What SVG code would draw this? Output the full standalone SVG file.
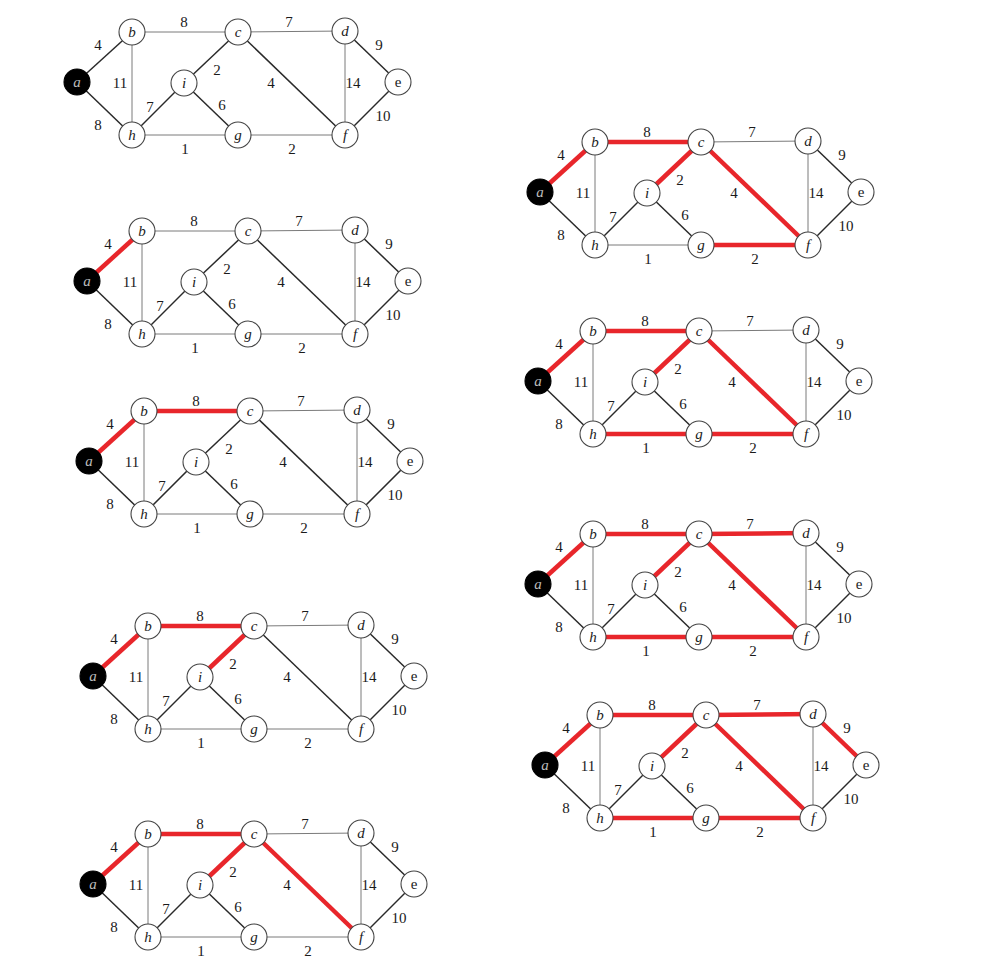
<svg xmlns="http://www.w3.org/2000/svg" xmlns:xlink="http://www.w3.org/1999/xlink" width="994" height="965" viewBox="0 0 994 965">
<style>
.dk{stroke:#2a2a2a;stroke-width:1.5;fill:none}
.lt{stroke:#7a7a7a;stroke-width:1;fill:none}
.red{stroke:#e8262b;stroke-width:4.5;fill:none}
.nd circle{fill:#fff;stroke:#444;stroke-width:1.1}
.nd text{font-family:"Liberation Serif",serif;font-style:italic;font-size:15px;fill:#222;text-anchor:middle}
.nd text.up{font-style:normal}
.src circle{fill:#000;stroke:#000}
.src text{fill:#bbb}
.w{font-family:"Liberation Serif",serif;font-size:15px;fill:#1a1a1a;text-anchor:middle}
</style>
<defs>
<g id="edges">
<line class="dk" x1="0" y1="0" x2="55" y2="-50"/>
<line class="dk" x1="0" y1="0" x2="55" y2="53"/>
<line class="lt" x1="55" y1="-50" x2="161" y2="-50"/>
<line class="lt" x1="55" y1="-50" x2="55" y2="53"/>
<line class="lt" x1="161" y1="-50" x2="268" y2="-51"/>
<line class="dk" x1="161" y1="-50" x2="107" y2="1"/>
<line class="dk" x1="161" y1="-50" x2="268" y2="53"/>
<line class="dk" x1="268" y1="-51" x2="321" y2="0"/>
<line class="lt" x1="268" y1="-51" x2="268" y2="53"/>
<line class="dk" x1="321" y1="0" x2="268" y2="53"/>
<line class="dk" x1="55" y1="53" x2="107" y2="1"/>
<line class="dk" x1="107" y1="1" x2="161" y2="53"/>
<line class="lt" x1="55" y1="53" x2="161" y2="53"/>
<line class="lt" x1="161" y1="53" x2="268" y2="53"/>
</g>
<g id="weights">
<text class="w" x="21" y="-32">4</text>
<text class="w" x="21" y="48">8</text>
<text class="w" x="43" y="6">11</text>
<text class="w" x="107" y="-55">8</text>
<text class="w" x="212" y="-55">7</text>
<text class="w" x="302" y="-32">9</text>
<text class="w" x="140" y="-7">2</text>
<text class="w" x="194" y="6">4</text>
<text class="w" x="276" y="6">14</text>
<text class="w" x="306" y="39">10</text>
<text class="w" x="73" y="30">7</text>
<text class="w" x="145" y="28">6</text>
<text class="w" x="108" y="72">1</text>
<text class="w" x="215" y="72">2</text>
</g>
<g id="nodes">
<g id="node-a" class="nd src" transform="translate(0,0)"><circle r="13"/><text y="5">a</text></g>
<g id="node-b" class="nd" transform="translate(55,-50)"><circle r="13"/><text y="5">b</text></g>
<g id="node-c" class="nd" transform="translate(161,-50)"><circle r="13"/><text y="5">c</text></g>
<g id="node-d" class="nd" transform="translate(268,-51)"><circle r="13"/><text y="5">d</text></g>
<g id="node-e" class="nd" transform="translate(321,0)"><circle r="13"/><text class="up" y="5">e</text></g>
<g id="node-i" class="nd" transform="translate(107,1)"><circle r="13"/><text y="5">i</text></g>
<g id="node-h" class="nd" transform="translate(55,53)"><circle r="13"/><text y="5">h</text></g>
<g id="node-g" class="nd" transform="translate(161,53)"><circle r="13"/><text y="5">g</text></g>
<g id="node-f" class="nd" transform="translate(268,53)"><circle r="13"/><text y="5">f</text></g>
</g>
<line id="r-ab" class="red" x1="0" y1="0" x2="55" y2="-50"/>
<line id="r-bc" class="red" x1="55" y1="-50" x2="161" y2="-50"/>
<line id="r-ci" class="red" x1="161" y1="-50" x2="107" y2="1"/>
<line id="r-cf" class="red" x1="161" y1="-50" x2="268" y2="53"/>
<line id="r-gf" class="red" x1="161" y1="53" x2="268" y2="53"/>
<line id="r-hg" class="red" x1="55" y1="53" x2="161" y2="53"/>
<line id="r-cd" class="red" x1="161" y1="-50" x2="268" y2="-51"/>
<line id="r-de" class="red" x1="268" y1="-51" x2="321" y2="0"/>
</defs>
<rect width="994" height="965" fill="#fff"/>

<g id="panel1" transform="translate(77,82)">
<g class="connectors"><use xlink:href="#edges"/></g>
<use xlink:href="#weights"/>
<use xlink:href="#nodes"/>
</g>

<g id="panel2" transform="translate(87,281)">
<g class="connectors"><use xlink:href="#edges"/><use xlink:href="#r-ab"/></g>
<use xlink:href="#weights"/>
<use xlink:href="#nodes"/>
</g>

<g id="panel3" transform="translate(89,461)">
<g class="connectors"><use xlink:href="#edges"/><use xlink:href="#r-ab"/><use xlink:href="#r-bc"/></g>
<use xlink:href="#weights"/>
<use xlink:href="#nodes"/>
</g>

<g id="panel4" transform="translate(93,676)">
<g class="connectors"><use xlink:href="#edges"/><use xlink:href="#r-ab"/><use xlink:href="#r-bc"/><use xlink:href="#r-ci"/></g>
<use xlink:href="#weights"/>
<use xlink:href="#nodes"/>
</g>

<g id="panel5" transform="translate(93,884)">
<g class="connectors"><use xlink:href="#edges"/><use xlink:href="#r-ab"/><use xlink:href="#r-bc"/><use xlink:href="#r-ci"/><use xlink:href="#r-cf"/></g>
<use xlink:href="#weights"/>
<use xlink:href="#nodes"/>
</g>

<g id="panel6" transform="translate(540,192)">
<g class="connectors"><use xlink:href="#edges"/><use xlink:href="#r-ab"/><use xlink:href="#r-bc"/><use xlink:href="#r-ci"/><use xlink:href="#r-cf"/><use xlink:href="#r-gf"/></g>
<use xlink:href="#weights"/>
<use xlink:href="#nodes"/>
</g>

<g id="panel7" transform="translate(538,381)">
<g class="connectors"><use xlink:href="#edges"/><use xlink:href="#r-ab"/><use xlink:href="#r-bc"/><use xlink:href="#r-ci"/><use xlink:href="#r-cf"/><use xlink:href="#r-gf"/><use xlink:href="#r-hg"/></g>
<use xlink:href="#weights"/>
<use xlink:href="#nodes"/>
</g>

<g id="panel8" transform="translate(538,584)">
<g class="connectors"><use xlink:href="#edges"/><use xlink:href="#r-ab"/><use xlink:href="#r-bc"/><use xlink:href="#r-ci"/><use xlink:href="#r-cf"/><use xlink:href="#r-gf"/><use xlink:href="#r-hg"/><use xlink:href="#r-cd"/></g>
<use xlink:href="#weights"/>
<use xlink:href="#nodes"/>
</g>

<g id="panel9" transform="translate(545,765)">
<g class="connectors"><use xlink:href="#edges"/><use xlink:href="#r-ab"/><use xlink:href="#r-bc"/><use xlink:href="#r-ci"/><use xlink:href="#r-cf"/><use xlink:href="#r-gf"/><use xlink:href="#r-hg"/><use xlink:href="#r-cd"/><use xlink:href="#r-de"/></g>
<use xlink:href="#weights"/>
<use xlink:href="#nodes"/>
</g>
</svg>
